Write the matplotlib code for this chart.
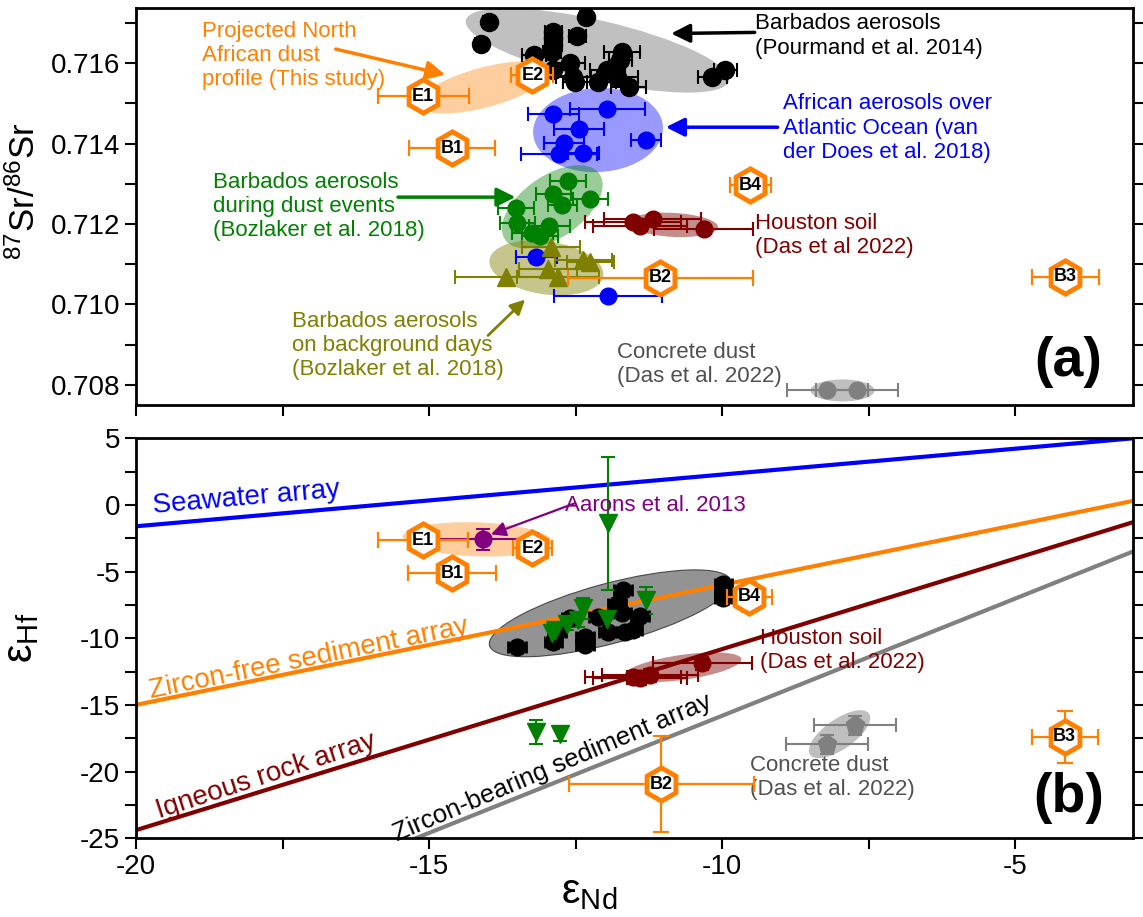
import matplotlib
matplotlib.use('Agg')
import matplotlib.pyplot as plt
import matplotlib.transforms as mtransforms
from matplotlib.patches import Ellipse
from matplotlib.ticker import MultipleLocator

plt.rcParams['font.family'] = ['Liberation Sans', 'DejaVu Sans']
plt.rcParams['mathtext.fontset'] = 'custom'
plt.rcParams['mathtext.rm'] = 'Liberation Sans'
plt.rcParams['mathtext.it'] = 'Liberation Sans:italic'
plt.rcParams['axes.unicode_minus'] = False

# --- colours ---
ORANGE = '#ff8000'
BLUE = '#0000ff'
GREEN = '#008000'
DRED = '#800000'
OLIVE = '#808000'
PURPLE = '#800080'
GREY = '#808080'

# --- panel (a): 87Sr/86Sr vs eNd ---
# projected North African dust profile (this study)
proj_labels = ['E1', 'E2', 'B1', 'B2', 'B3', 'B4']
proj_nd = [-15.10, -13.24, -14.61, -11.06, -4.15, -9.52]
proj_nd_err = [0.78, 0.36, 0.74, 1.58, 0.57, 0.35]
proj_sr = [0.71518, 0.71570, 0.71389, 0.71066, 0.71069, 0.71297]

# Barbados aerosols (Pourmand et al. 2014)
pour_nd = [-13.98, -14.11, -12.32, -12.47, -12.88, -12.88, -12.88, -12.90, -13.21, -12.88, -12.59,
           -12.54, -12.51, -11.71, -11.74, -11.96, -12.12, -11.79, -11.60, -10.17, -9.95]
pour_sr = [0.71702, 0.71647, 0.71714, 0.71669, 0.71677, 0.71662, 0.71645, 0.71627, 0.71620, 0.71583, 0.71602,
           0.71565, 0.71553, 0.71627, 0.71607, 0.71583, 0.71553, 0.71565, 0.71540, 0.71565, 0.71583]
pour_nd_err = [0.1, 0.1, 0.1, 0.15, 0.15, 0.15, 0.15, 0.15, 0.2, 0.3, 0.25,
               0.3, 0.2, 0.3, 0.2, 0.3, 0.3, 0.35, 0.3, 0.25, 0.2]

# African aerosols over Atlantic Ocean (van der Does et al. 2018)
vdd_nd = [-12.88, -11.96, -12.44, -12.70, -12.78, -12.37, -11.30, -13.17, -11.95]
vdd_sr = [0.71473, 0.71486, 0.71436, 0.71401, 0.71374, 0.71377, 0.71409, 0.71119, 0.71022]
vdd_nd_err = [0.43, 0.64, 0.43, 0.34, 0.65, 0.27, 0.26, 0.35, 0.92]

# Barbados aerosols during dust events (Bozlaker et al. 2018)
bzd_nd = [-12.63, -12.88, -12.25, -12.73, -13.52, -13.50, -12.95, -13.24, -13.11]
bzd_sr = [0.71307, 0.71275, 0.71263, 0.71248, 0.71240, 0.71203, 0.71196, 0.71178, 0.71171]
bzd_nd_err = [0.31, 0.30, 0.30, 0.25, 0.30, 0.30, 0.35, 0.35, 0.30]

# Barbados aerosols on background days (Bozlaker et al. 2018)
bzb_nd = [-12.92, -13.69, -12.97, -12.80, -12.37, -12.25]
bzb_sr = [0.71143, 0.71069, 0.71089, 0.71069, 0.71111, 0.71106]
bzb_nd_err = [0.50, 0.87, 0.50, 0.70, 0.49, 0.40]

# Houston soil (Das et al. 2022)
hou_nd = [-11.52, -11.40, -11.19, -10.32]
hou_sr = [0.71205, 0.71196, 0.71213, 0.71188]
hou_nd_err = [0.82, 0.80, 0.82, 0.84]

# Concrete dust (Das et al. 2022)
con_nd = [-8.21, -7.71]
con_sr = [0.70787, 0.70786]
con_nd_err = [0.69, 0.70]

# --- panel (b): eHf vs eNd ---
proj_hf = [-2.65, -3.25, -5.13, -20.96, -17.40, -6.90]
proj_nd_b = [-15.10, -13.24, -14.61, -11.04, -4.16, -9.54]
proj_nd_err_b = [0.77, 0.33, 0.75, 1.58, 0.56, 0.38]
proj_hf_err = [0.0, 0.0, 0.0, 3.6, 1.95, 1.1]

aar_nd = [-14.08]
aar_hf = [-2.58]
aar_nd_err = [0.94]
aar_hf_err = [0.8]

pourb_nd = [-13.50, -12.88, -12.82, -12.34, -12.34, -12.59, -12.12, -11.95, -11.69, -11.80, -11.71,
            -11.66, -11.52, -11.40, -9.98, -9.98, -9.98]
pourb_hf = [-10.68, -10.30, -9.55, -10.50, -9.90, -8.50, -8.40, -9.55, -6.40, -7.40, -8.10,
            -9.55, -9.40, -8.30, -5.90, -6.60, -7.00]

bzdb_nd = [-11.95, -11.31, -12.37, -11.96, -12.46, -12.65, -12.85, -12.90, -13.17, -12.76]
bzdb_hf = [-1.38, -7.15, -7.75, -8.58, -8.65, -8.90, -9.40, -9.60, -17.05, -17.20]
bzdb_hf_err = [5.0, 1.0, 0.8, 0.0, 0.5, 0.5, 0.4, 0.4, 0.9, 0.5]

houb_nd = [-11.52, -11.40, -11.23, -10.34]
houb_hf = [-12.93, -13.00, -12.78, -11.88]
houb_nd_err = [0.82, 0.80, 0.82, 0.84]
houb_hf_err = [0.5, 0.5, 0.5, 0.5]

conb_nd = [-7.73, -8.21]
conb_hf = [-16.53, -17.96]
conb_nd_err = [0.70, 0.70]
conb_hf_err = [0.7, 0.7]

# arrays (eHf at eNd = -20 and -3)
array_nd = [-20, -3]
seawater_hf = [-1.6, 5.0]
zfree_hf = [-15.0, 0.3]
igneous_hf = [-24.4, -1.3]
zbear_hf = [-33.4, -3.5]

fig = plt.figure(figsize=(11.43, 9.17), dpi=100)
axa = fig.add_axes([0.119, 0.558, 0.872, 0.433])
axb = fig.add_axes([0.119, 0.086, 0.872, 0.436])


def shade(ax, cx, cy, w, h, ang, color, alpha, ec='none', lw=0):
    # ellipse sized in inches on screen, centred in data coords
    tr = fig.dpi_scale_trans + mtransforms.ScaledTranslation(cx, cy, ax.transData)
    ax.add_patch(Ellipse((0, 0), w, h, angle=ang, transform=tr, fc=color, alpha=alpha,
                         ec=ec, lw=lw, zorder=1))


def hexes(ax, nd, val, xerr, yerr):
    ax.errorbar(nd, val, xerr=xerr, yerr=yerr, fmt='none', ecolor=ORANGE, elinewidth=1.6,
                capsize=6, capthick=1.6, zorder=4)
    ax.plot(nd, val, 'h', ms=24, mfc='white', mec=ORANGE, mew=3.5, ls='none', zorder=5)
    for lab, x, y in zip(proj_labels, nd, val):
        ax.text(x, y, lab, ha='center', va='center', fontsize=13, fontweight='bold', zorder=6)


eb = dict(elinewidth=1.5, capsize=5, capthick=1.5, ls='none', zorder=3)

# ---------------- panel (a) ----------------
axa.set_xlim(-20, -3)
axa.set_ylim(0.70749, 0.71737)

shade(axa, -12.13, 0.71632, 2.70, 0.60, -13, '#c0c0c0', 1.0)
shade(axa, -14.06, 0.71540, 1.35, 0.40, 15, ORANGE, 0.38)
shade(axa, -12.12, 0.71434, 1.30, 0.84, 3, BLUE, 0.4)
shade(axa, -12.90, 0.71243, 1.15, 0.62, 35, GREEN, 0.4)
shade(axa, -13.00, 0.71091, 1.15, 0.53, -8, OLIVE, 0.45)
shade(axa, -10.84, 0.71198, 0.90, 0.24, -3, DRED, 0.45)
shade(axa, -7.95, 0.70786, 0.64, 0.22, 0, GREY, 0.5)

axa.errorbar(pour_nd, pour_sr, xerr=pour_nd_err, fmt='o', color='black', ms=13, **eb)
axa.errorbar(vdd_nd, vdd_sr, xerr=vdd_nd_err, fmt='o', color=BLUE, ms=12, **eb)
axa.errorbar(bzd_nd, bzd_sr, xerr=bzd_nd_err, fmt='o', color=GREEN, ms=12, **eb)
axa.errorbar(bzb_nd, bzb_sr, xerr=bzb_nd_err, fmt='^', color=OLIVE, ms=13, **eb)
axa.errorbar(hou_nd, hou_sr, xerr=hou_nd_err, fmt='o', color=DRED, ms=12, **eb)
axa.errorbar(con_nd, con_sr, xerr=con_nd_err, fmt='o', color=GREY, ms=12, **eb)
hexes(axa, proj_nd, proj_sr, proj_nd_err, None)

tk = dict(fontsize=16, va='center', ha='left', linespacing=1.2)
arr = dict(arrowstyle='-|>', lw=2.5, mutation_scale=28)
axa.text(-9.44, 0.71668, 'Barbados aerosols\n(Pourmand et al. 2014)', color='black', **tk)
axa.annotate('', xy=(-10.92, 0.71674), xytext=(-9.40, 0.71677),
             arrowprops=dict(color='black', **arr))
axa.text(-18.87, 0.71620, 'Projected North\nAfrican dust\nprofile (This study)', color=ORANGE, **tk)
axa.annotate('', xy=(-14.68, 0.71570), xytext=(-16.64, 0.71637),
             arrowprops=dict(color=ORANGE, **arr))
axa.text(-8.96, 0.71439, 'African aerosols over\nAtlantic Ocean (van\nder Does et al. 2018)', color=BLUE, **tk)
axa.annotate('', xy=(-11.01, 0.71441), xytext=(-9.01, 0.71441),
             arrowprops=dict(color=BLUE, **arr))
axa.text(-18.69, 0.71243, 'Barbados aerosols\nduring dust events\n(Bozlaker et al. 2018)', color=GREEN, **tk)
axa.annotate('', xy=(-13.48, 0.71267), xytext=(-15.58, 0.71267),
             arrowprops=dict(color=GREEN, **arr))
axa.text(-9.44, 0.71171, 'Houston soil\n(Das et al 2022)', color=DRED, **tk)
axa.text(-17.34, 0.70898, 'Barbados aerosols\non background days\n(Bozlaker et al. 2018)', color=OLIVE, **tk)
axa.annotate('', xy=(-13.33, 0.71017), xytext=(-14.03, 0.70918),
             arrowprops=dict(color=OLIVE, arrowstyle='-|>', lw=2, mutation_scale=22))
axa.text(-11.79, 0.70851, 'Concrete dust\n(Das et al. 2022)', color='#505050', **tk)
axa.text(-4.10, 0.70858, '(a)', fontsize=40, fontweight='bold', ha='center', va='center')

axa.set_ylabel('$^{87}$Sr/$^{86}$Sr', fontsize=25)
axa.yaxis.set_major_locator(MultipleLocator(0.002))
axa.yaxis.set_minor_locator(MultipleLocator(0.001))
axa.yaxis.set_major_formatter(matplotlib.ticker.FormatStrFormatter('%.3f'))
axa.tick_params(labelbottom=False)

# ---------------- panel (b) ----------------
axb.set_xlim(-20, -3)
axb.set_ylim(-25, 5)

axb.plot(array_nd, seawater_hf, color=BLUE, lw=3, zorder=2)
axb.plot(array_nd, zfree_hf, color=ORANGE, lw=3, zorder=2)
axb.plot(array_nd, igneous_hf, color=DRED, lw=3, zorder=2)
axb.plot(array_nd, zbear_hf, color=GREY, lw=3, zorder=2)

shade(axb, -14.18, -2.58, 1.49, 0.34, -2, ORANGE, 0.38)
shade(axb, -11.91, -8.13, 2.50, 0.60, 15, '#808080', 0.85, ec='#333333', lw=0.8)
shade(axb, -10.67, -12.18, 1.18, 0.25, 8, DRED, 0.45)
shade(axb, -8.00, -17.20, 0.72, 0.30, 35, GREY, 0.5)

axb.errorbar(pourb_nd, pourb_hf, xerr=0.15, yerr=0.4, fmt='o', color='black', ms=12,
             elinewidth=2, capsize=4, capthick=2, ls='none', zorder=3)
axb.errorbar(bzdb_nd, bzdb_hf, yerr=bzdb_hf_err, fmt='v', color=GREEN, ms=13, **eb)
axb.errorbar(houb_nd, houb_hf, xerr=houb_nd_err, yerr=houb_hf_err, fmt='o', color=DRED, ms=12, **eb)
axb.errorbar(conb_nd, conb_hf, xerr=conb_nd_err, yerr=conb_hf_err, fmt='p', color=GREY, ms=14, **eb)
axb.errorbar(aar_nd, aar_hf, xerr=aar_nd_err, yerr=aar_hf_err, fmt='o', color=PURPLE, ms=12, **eb)
hexes(axb, proj_nd_b, proj_hf, proj_nd_err_b, proj_hf_err)

axb.text(-18.11, 0.5, 'Seawater array', color=BLUE, fontsize=20, rotation=5,
         ha='center', va='center', rotation_mode='anchor')
axb.text(-17.05, -11.58, 'Zircon-free sediment array', color=ORANGE, fontsize=20, rotation=11.5,
         ha='center', va='center', rotation_mode='anchor')
axb.text(-17.78, -20.36, 'Igneous rock array', color=DRED, fontsize=20, rotation=18,
         ha='center', va='center', rotation_mode='anchor')
axb.text(-12.90, -19.76, 'Zircon-bearing sediment array', color='black', fontsize=18.5, rotation=23,
         ha='center', va='center', rotation_mode='anchor')
axb.text(-12.68, -0.03, 'Aarons et al. 2013', color=PURPLE, fontsize=16, ha='left', va='center')
axb.annotate('', xy=(-13.99, -2.28), xytext=(-12.47, 0.2),
             arrowprops=dict(color=PURPLE, arrowstyle='-|>', lw=1.6, mutation_scale=22))
axb.text(-9.35, -10.9, 'Houston soil\n(Das et al. 2022)', color=DRED, **tk)
axb.text(-9.52, -20.43, 'Concrete dust\n(Das et al. 2022)', color='#505050', **tk)
axb.text(-4.10, -22.0, '(b)', fontsize=40, fontweight='bold', ha='center', va='center')

axb.set_ylabel('ε$_{\\mathrm{Hf}}$', fontsize=30)
axb.set_xlabel('ε$_{\\mathrm{Nd}}$', fontsize=30)
axb.yaxis.set_major_locator(MultipleLocator(5))
axb.yaxis.set_minor_locator(MultipleLocator(2.5))

for ax in (axa, axb):
    ax.xaxis.set_major_locator(MultipleLocator(5))
    ax.xaxis.set_minor_locator(MultipleLocator(2.5))
    ax.tick_params(which='both', direction='out', length=8, width=1.5, right=True, top=False,
                   labelsize=20)
    for s in ax.spines.values():
        s.set_linewidth(2)

axa.yaxis.set_label_coords(-0.095, 0.54)
axb.yaxis.set_label_coords(-0.095, 0.5)
axb.xaxis.set_label_coords(0.455, -0.085)

fig.savefig('out.png', dpi=100)
